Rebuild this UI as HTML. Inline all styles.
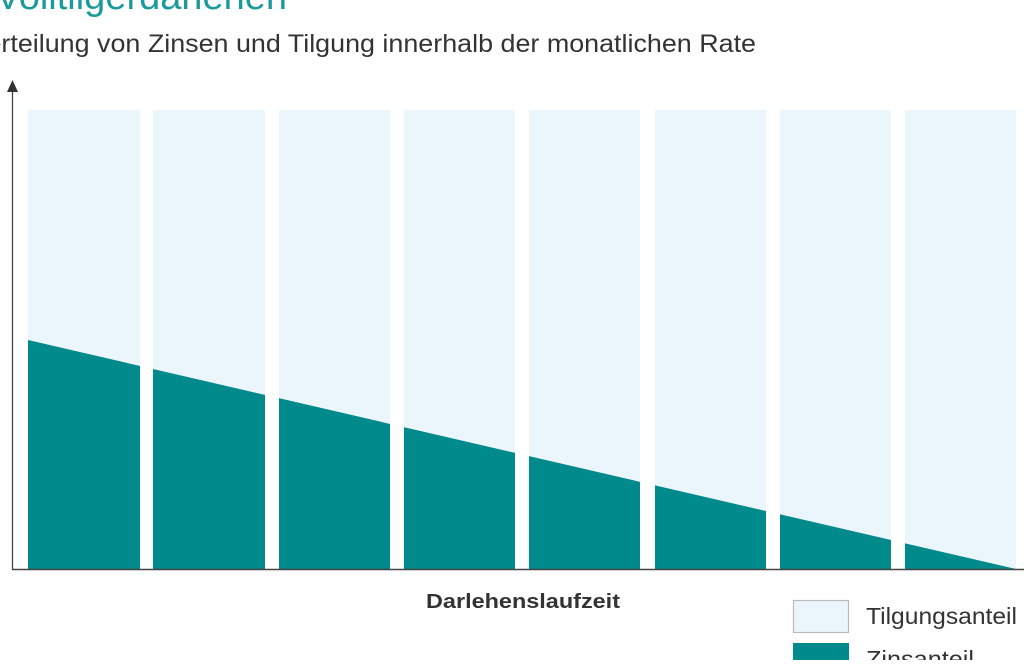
<!DOCTYPE html>
<html><head><meta charset="utf-8"><style>
html,body{margin:0;padding:0;background:#fff;overflow:hidden}
</style></head><body>
<svg width="1024" height="660" xmlns="http://www.w3.org/2000/svg" font-family="'Liberation Sans', sans-serif">
<rect width="1024" height="660" fill="#fff"/>
<text x="287" y="9" text-anchor="end" font-size="38" fill="#1a9a9a">Volltilgerdarlehen</text>
<text x="-30" y="52" font-size="25" fill="#333" textLength="786" lengthAdjust="spacingAndGlyphs">Verteilung von Zinsen und Tilgung innerhalb der monatlichen Rate</text>
<defs><clipPath id="c"><polygon points="28,340 1016,569 1016,570 28,570"/></clipPath></defs>
<g fill="#ebf5fc">
<rect x="28" y="110" width="112" height="459"/>
<rect x="153" y="110" width="112" height="459"/>
<rect x="279" y="110" width="111" height="459"/>
<rect x="404" y="110" width="111" height="459"/>
<rect x="529" y="110" width="111" height="459"/>
<rect x="655" y="110" width="111" height="459"/>
<rect x="780" y="110" width="111" height="459"/>
<rect x="905" y="110" width="111" height="459"/>
</g>
<g fill="#008a8c" clip-path="url(#c)">
<rect x="28" y="110" width="112" height="459"/>
<rect x="153" y="110" width="112" height="459"/>
<rect x="279" y="110" width="111" height="459"/>
<rect x="404" y="110" width="111" height="459"/>
<rect x="529" y="110" width="111" height="459"/>
<rect x="655" y="110" width="111" height="459"/>
<rect x="780" y="110" width="111" height="459"/>
<rect x="905" y="110" width="111" height="459"/>
</g>
<line x1="12" y1="569.5" x2="1024" y2="569.5" stroke="#444" stroke-width="1.5"/>
<line x1="12.5" y1="88" x2="12.5" y2="570" stroke="#444" stroke-width="1.3"/>
<polygon points="12.5,80 7,92 18,92" fill="#333"/>
<text x="426" y="608" font-size="20" font-weight="bold" fill="#333" textLength="194" lengthAdjust="spacingAndGlyphs">Darlehenslaufzeit</text>
<rect x="793.5" y="600.5" width="55" height="32" fill="#ebf5fc" stroke="#bbb" stroke-width="1.2"/>
<rect x="793" y="643" width="56" height="30" fill="#008a8c"/>
<text x="866" y="624" font-size="23" fill="#333" textLength="151" lengthAdjust="spacingAndGlyphs">Tilgungsanteil</text>
<text x="866" y="667" font-size="23" fill="#333" textLength="108" lengthAdjust="spacingAndGlyphs">Zinsanteil</text>
</svg>
</body></html>
